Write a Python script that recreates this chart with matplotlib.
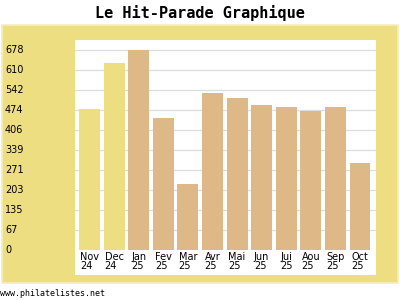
import matplotlib
matplotlib.use("Agg")
import matplotlib.pyplot as plt
from matplotlib.patches import Rectangle
from matplotlib.transforms import blended_transform_factory

months = ["Nov", "Dec", "Jan", "Fev", "Mar", "Avr", "Mai", "Jun", "Jui", "Aou", "Sep", "Oct"]
years = ["24", "24", "25", "25", "25", "25", "25", "25", "25", "25", "25", "25"]
values = [478, 633, 678, 447, 224, 533, 516, 492, 485, 472, 485, 295]
yticks = [0, 67, 135, 203, 271, 339, 406, 474, 542, 610, 678]
bar_colors = ["#EEDE82"] * 2 + ["#DEB887"] * 10

W, H = 400, 300
fig = plt.figure(figsize=(4, 3), dpi=100)
fig.patch.set_facecolor("white")

# yellow panel
fig.patches.append(Rectangle((2 / W, 1 - 283 / H), 396 / W, 258 / H, transform=fig.transFigure,
                             facecolor="#EEDE82", edgecolor="#F6EEB8", linewidth=1.2, zorder=-5))

ax = fig.add_axes([75 / W, 1 - 275 / H, 301 / W, 235 / H])
ax.set_zorder(1)
ax.set_facecolor("white")
for s in ax.spines.values():
    s.set_visible(False)
ax.tick_params(left=False, bottom=False, labelleft=False, labelbottom=False)

step = 678 / 10
ax.set_ylim(-25 / 20 * step, 210 / 20 * step)
ax.set_xlim(-0.59, 11.65)

for i in range(1, 11):
    ax.axhline(i * step, color="#DDDDDD", linewidth=0.9, zorder=1)

x = list(range(len(values)))
ax.bar(x, values, width=0.85, color=bar_colors, zorder=2)

for i, (m, yv) in enumerate(zip(months, years)):
    ax.text(i, -8, m + "\n" + yv, ha="center", va="top", fontsize=7,
            family="DejaVu Sans", linespacing=0.85, color="black",
            multialignment="left")

trans = blended_transform_factory(fig.transFigure, ax.transData)
for i, t in enumerate(yticks):
    ax.text(5 / W, i * step, str(t), transform=trans, ha="left", va="center",
            fontsize=7, family="DejaVu Sans", color="black", clip_on=False)

fig.text(0.5, 1 - 13 / H, "Le Hit-Parade Graphique", ha="center", va="center",
         fontsize=11, family="DejaVu Sans Mono", fontweight="bold")
fig.text(0, 1 - 294 / H, "www.philatelistes.net", ha="left", va="center",
         fontsize=6, family="DejaVu Sans Mono")

fig.savefig("out.png", dpi=100)
